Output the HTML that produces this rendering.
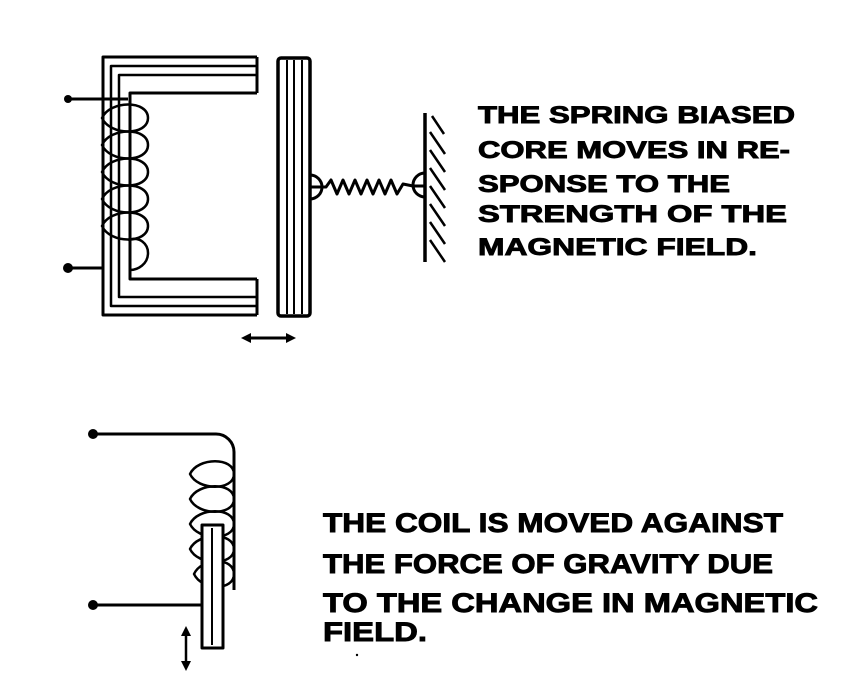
<!DOCTYPE html>
<html><head><meta charset="utf-8"><style>
html,body{margin:0;padding:0;background:#fff;}
svg{display:block}
text{font-family:"Liberation Sans",sans-serif;font-weight:bold;fill:#000;stroke:#000;stroke-width:0.9}
</style></head><body>
<svg width="856" height="699" viewBox="0 0 856 699" xmlns="http://www.w3.org/2000/svg">
<g fill="none" stroke="#000" stroke-width="3" stroke-linejoin="round">
<path d="M257,57 H103 V315 H257"/>
<path d="M257,66 H111 V306 H257" stroke-width="2.5"/>
<path d="M257,75 H119 V297 H257" stroke-width="2.5"/>
<path d="M257,93 H130 V279 H257"/>
<path d="M257,57 V93 M257,279 V315"/>
<rect x="278" y="58" width="32" height="258" rx="3" stroke-width="3.5"/>
<path d="M287,60 V314 M294,60 V314 M302,60 V314" stroke-width="2"/>
<path d="M67,99 H128 M67,268 H103" />
<g stroke-width="2.5">
<path d="M102,118 C110,100 148,100 148,118 C148,136 110,136 102,118 Z"/>
<path d="M102,145 C110,127 148,127 148,145 C148,163 110,163 102,145 Z"/>
<path d="M102,172 C110,154 148,154 148,172 C148,190 110,190 102,172 Z"/>
<path d="M102,199 C110,181 148,181 148,199 C148,217 110,217 102,199 Z"/>
<path d="M102,226 C110,208 148,208 148,226 C148,244 110,244 102,226 Z"/>
<path d="M128,240 C140,236 148,244 148,253 C148,264 138,270 130,270"/>
</g>
<path d="M310,175 A12,12 0 0 1 310,199"/>
<path d="M310,187 H326 L331,180 L337,194 L343,180 L349,194 L355,180 L361,194 L367,180 L373,194 L379,180 L385,194 L391,180 L397,194 L403,184 L413,186 H425"/>
<path d="M425,173 A12,12 0 0 0 425,197"/>
<path d="M425,113 V262" stroke-width="3.5"/>
<path d="M432,116 L444,134 M430,132 L445,154 M430,150 L445,172 M430,168 L445,190 M430,186 L445,208 M430,204 L445,226 M430,222 L445,244 M430,240 L445,262" stroke-width="2.5"/>
<path d="M246,338 H292"/>
</g>
<g fill="#000">
<circle cx="68" cy="99" r="4"/>
<circle cx="68" cy="268" r="5"/>
<polygon points="241,338 251,333 251,343"/>
<polygon points="296,338 286,333 286,343"/>
<circle cx="93" cy="434" r="5"/>
<circle cx="93" cy="605" r="5"/>
<polygon points="186,626 181,636 191,636"/>
<polygon points="186,671 181,661 191,661"/>
<circle cx="357" cy="655" r="1.2"/>
</g>
<g fill="none" stroke="#000" stroke-width="3" stroke-linejoin="round">
<path d="M93,434 H216 A18,18 0 0 1 234,452 V590"/>
<g stroke-width="2.5">
<path d="M190,474 C198,457 234,457 234,474 C234,491 198,491 190,474 Z"/>
<path d="M190,499 C198,482 234,482 234,499 C234,516 198,516 190,499 Z"/>
<path d="M190,524 C198,507 234,507 234,524 C234,541 198,541 190,524 Z"/>
<path d="M190,549 C198,532 234,532 234,549 C234,566 198,566 190,549 Z"/>
<path d="M194,574 C202,557 234,557 234,574 C234,591 202,591 194,574 Z"/>
</g>
<rect x="202" y="525" width="21" height="123" fill="#fff"/>
<path d="M212,528 V645" stroke-width="2"/>
<path d="M93,605 H202"/>
<path d="M186,632 V666" stroke-width="2.5"/>
</g>
<g font-size="24">
<text x="478" y="123" textLength="317" lengthAdjust="spacingAndGlyphs">THE SPRING BIASED</text>
<text x="478" y="158" textLength="312" lengthAdjust="spacingAndGlyphs">CORE MOVES IN RE-</text>
<text x="478" y="192" textLength="252" lengthAdjust="spacingAndGlyphs">SPONSE TO THE</text>
<text x="478" y="222" textLength="309" lengthAdjust="spacingAndGlyphs">STRENGTH OF THE</text>
<text x="478" y="255" textLength="279" lengthAdjust="spacingAndGlyphs">MAGNETIC FIELD.</text>
</g>
<g font-size="27">
<text x="323" y="532" textLength="460" lengthAdjust="spacingAndGlyphs">THE COIL IS MOVED AGAINST</text>
<text x="323" y="573" textLength="450" lengthAdjust="spacingAndGlyphs">THE FORCE OF GRAVITY DUE</text>
<text x="323" y="612" textLength="495" lengthAdjust="spacingAndGlyphs">TO THE CHANGE IN MAGNETIC</text>
<text x="323" y="641" textLength="104" lengthAdjust="spacingAndGlyphs">FIELD.</text>
</g>
</svg>
</body></html>
